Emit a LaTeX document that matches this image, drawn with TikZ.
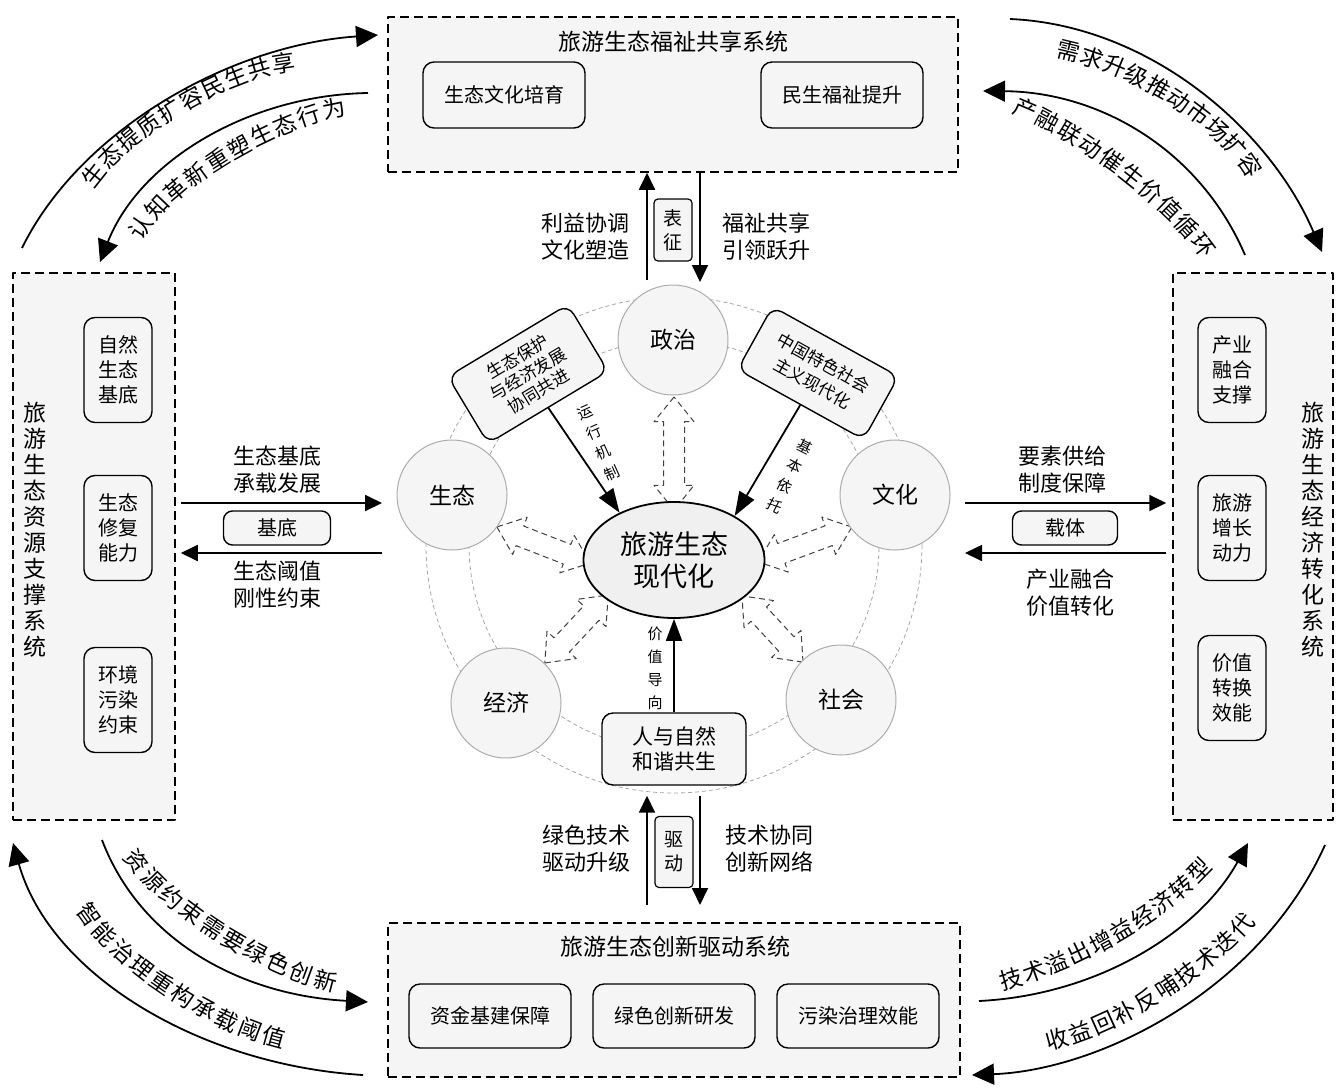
\documentclass[tikz,border=0pt]{standalone}
\usepackage{fontspec}
\setmainfont{Noto Sans CJK SC}
\usetikzlibrary{arrows.meta,shapes.geometric,shapes.arrows,decorations.text}
\newcommand{\fsz}[2]{\fontsize{#1}{#2}\selectfont}

\begin{document}
\begin{tikzpicture}[x=1pt, y=-1pt, line join=round,
  sysbox/.style={draw, line width=1.5pt, dash pattern=on 9pt off 5pt, fill=gray!8, inner sep=0pt},
  subbox/.style={draw, line width=1.4pt, rounded corners=11pt, fill=gray!8, align=center, inner sep=0pt},
  systitle/.style={font=\fsz{23}{26}, align=center},
  lbl/.style={font=\fsz{22}{27}, align=center},
  ringline/.style={draw=gray!70, dash pattern=on 4pt off 3pt, line width=0.8pt},
  dimnode/.style={circle, draw=gray!65, line width=1pt, fill=gray!8, minimum size=110pt, inner sep=0pt, font=\fsz{23}{27}},
  hollow/.style={double arrow, draw=black!75, fill=white, dash pattern=on 6pt off 4pt, line width=1pt,
    inner xsep=0pt, inner ysep=10pt, minimum width=39pt, double arrow head extend=9.5pt, double arrow tip angle=78},
  conn/.style={line width=1.8pt, -{Triangle[length=17pt, width=16pt]}},
  cycarrow/.style={line width=1.8pt, -{Triangle[length=22pt, width=21pt]}},
  curvetext/.style={decorate, decoration={text along path, text align=fit to path, raise=-9pt}},
]
\useasboundingbox (0,0) rectangle (1344,1092);

% 1. 四个子系统虚线框
\node[sysbox, minimum width=570pt, minimum height=155pt] (welfare) at (673,94.5) {};
\node[systitle] (welfareT) at (673,42) {旅游生态福祉共享系统};
\node[subbox, font=\fsz{20}{24}, minimum width=162pt, minimum height=66pt] (cultivate) at (504,95) {生态文化培育};
\node[subbox, font=\fsz{20}{24}, minimum width=162pt, minimum height=66pt] (livelihood) at (842,95) {民生福祉提升};

\node[sysbox, minimum width=162pt, minimum height=547pt] (resource) at (94,546.5) {};
\node[systitle] (resourceT) at (35,530) {旅\\游\\生\\态\\资\\源\\支\\撑\\系\\统};
\node[subbox, font=\fsz{20}{25}, minimum width=68pt, minimum height=105pt] (natBase) at (118,370) {自然\\生态\\基底};
\node[subbox, font=\fsz{20}{25}, minimum width=68pt, minimum height=105pt] (repair) at (118,528) {生态\\修复\\能力};
\node[subbox, font=\fsz{20}{25}, minimum width=68pt, minimum height=105pt] (pollute) at (118,700) {环境\\污染\\约束};

\node[sysbox, minimum width=160pt, minimum height=547pt] (economic) at (1253,546.5) {};
\node[systitle] (economicT) at (1313,530) {旅\\游\\生\\态\\经\\济\\转\\化\\系\\统};
\node[subbox, font=\fsz{20}{25}, minimum width=68pt, minimum height=105pt] (fusion) at (1232,370) {产业\\融合\\支撑};
\node[subbox, font=\fsz{20}{25}, minimum width=68pt, minimum height=105pt] (growth) at (1232,528) {旅游\\增长\\动力};
\node[subbox, font=\fsz{20}{25}, minimum width=68pt, minimum height=105pt] (convert) at (1232,688) {价值\\转换\\效能};

\node[sysbox, minimum width=572pt, minimum height=154pt] (innovate) at (674,1000) {};
\node[systitle] (innovateT) at (675,947) {旅游生态创新驱动系统};
\node[subbox, font=\fsz{20}{24}, minimum width=162pt, minimum height=64pt] (capital) at (490,1016) {资金基建保障};
\node[subbox, font=\fsz{20}{24}, minimum width=162pt, minimum height=64pt] (greenRD) at (674,1016) {绿色创新研发};
\node[subbox, font=\fsz{20}{24}, minimum width=162pt, minimum height=64pt] (govern) at (858,1016) {污染治理效能};

% 2. 中心虚线圆环 (最底层)
\coordinate (hub) at (674,545);
\draw[ringline] (hub) circle (205pt);
\draw[ringline] (hub) circle (248pt);

% 3. 空心虚线双向箭头 (被中心椭圆部分遮挡)
\node[hollow, minimum height=113pt, rotate=90] (hPol) at (674,453.5) {};
\node[hollow, minimum height=100pt, rotate=158.8] (hEco) at (543.5,545) {};
\node[hollow, minimum height=100pt, rotate=20.4] (hCul) at (805,544.5) {};
\node[hollow, minimum height=93pt, rotate=227] (hEcn) at (576.5,629) {};
\node[hollow, minimum height=90pt, rotate=312.7] (hSoc) at (772.5,629) {};

% 4. 五个维度圆与核心椭圆
\node[dimnode] (politics) at (673,340) {政治};
\node[dimnode] (ecology) at (452,495) {生态};
\node[dimnode] (cultureD) at (895,495) {文化};
\node[dimnode] (economy) at (506,703) {经济};
\node[dimnode] (society) at (841,700) {社会};

\node[ellipse, draw, line width=1.8pt, fill=gray!12, minimum width=181pt, minimum height=116pt,
  inner sep=0pt, font=\fsz{27}{32}, align=center] (core) at (674,560) {旅游生态\\现代化};

% 5. 倾斜说明框与实线箭头
\node[subbox, font=\fsz{17}{20}, minimum width=140pt, minimum height=78pt, rotate=31] (coEvolve) at (528,374) {生态保护\\与经济发展\\协同共进};
\node[subbox, font=\fsz{17}{23}, minimum width=144pt, minimum height=72pt, rotate=-29] (chinaMod) at (818,373) {中国特色社会\\主义现代化};
\node[subbox, font=\fsz{21}{25}, minimum width=144pt, minimum height=72pt] (harmony) at (674,749) {人与自然\\和谐共生};

\draw[conn, -{Triangle[length=24pt, width=17pt]}] (coEvolve.south) -- (core.139);
\draw[conn, -{Triangle[length=24pt, width=17pt]}] (chinaMod.south) -- (core.36);
\draw[conn, -{Triangle[length=22pt, width=16pt]}] (harmony.north) -- (core.south);

\node[font=\fsz{15}{22}, align=center, rotate=24] (mechT) at (599,443) {运\\行\\机\\制};
\node[font=\fsz{15}{22}, align=center, rotate=-27] (basisT) at (790,476) {基\\本\\依\\托};
\node[font=\fsz{15}{23}, align=center] (valueT) at (655,668) {价\\值\\导\\向};

% 6. 上下纵向连接
\coordinate (upA) at (647,280);
\coordinate (dnA) at (700,282);
\draw[conn] (upA) -- (upA |- welfare.south);
\draw[conn] (dnA |- welfare.south) -- (dnA);
\node[subbox, rounded corners=4pt, line width=1.2pt, font=\fsz{19}{24}, minimum width=38pt, minimum height=62pt] (sign) at (673,230) {表\\征};
\node[lbl] (welfareL) at (585,237) {利益协调\\文化塑造};
\node[lbl] (welfareR) at (766,237) {福祉共享\\引领跃升};

\coordinate (upB) at (647,905);
\coordinate (dnB) at (700,905);
\draw[conn, shorten >=10pt] (upB) -- (upB |- harmony.south);
\draw[conn, shorten <=10pt] (dnB |- harmony.south) -- (dnB);
\node[subbox, rounded corners=4pt, line width=1.2pt, font=\fsz{19}{24}, minimum width=38pt, minimum height=71pt] (drive) at (674,852) {驱\\动};
\node[lbl] (innovateL) at (586,849) {绿色技术\\驱动升级};
\node[lbl] (innovateR) at (769,849) {技术协同\\创新网络};

% 7. 左右横向连接
\coordinate (lkTop) at (382,503);
\coordinate (lkBot) at (382,553);
\draw[conn, shorten <=5pt] (resource.east |- lkTop) -- (lkTop);
\draw[conn, shorten >=5pt] (lkBot) -- (resource.east |- lkBot);
\node[subbox, rounded corners=9pt, font=\fsz{20}{24}, minimum width=107pt, minimum height=34pt] (base) at (277,528) {基底};
\node[lbl] (resourceL) at (277,470) {生态基底\\承载发展};
\node[lbl] (resourceR) at (277,585) {生态阈值\\刚性约束};

\coordinate (rkTop) at (965,503);
\coordinate (rkBot) at (965,553);
\draw[conn, shorten >=6pt] (rkTop) -- (economic.west |- rkTop);
\draw[conn, shorten <=6pt] (economic.west |- rkBot) -- (rkBot);
\node[subbox, rounded corners=9pt, font=\fsz{20}{24}, minimum width=105pt, minimum height=34pt] (carrier) at (1065,528) {载体};
\node[lbl] (economicL) at (1062,470) {要素供给\\制度保障};
\node[lbl] (economicR) at (1070,593) {产业融合\\价值转化};

% 8. 四角弧形循环箭头与沿弧文字 (文字中线单独给出)
\coordinate (tlA) at (22,248);   \coordinate (tlB) at (378,35);
\coordinate (tlC) at (368,93);   \coordinate (tlD) at (100,262);
\draw[cycarrow] (tlA) .. controls (80,130) and (230,45) .. (tlB);
\draw[cycarrow] (tlC) .. controls (250,95) and (140,160) .. (tlD);
\path[curvetext, decoration={text={|\fsz{23}{23}|生态提质扩容民生共享}}] (87,184) .. controls (125,128) and (230,66) .. (295,62);
\path[curvetext, decoration={text={|\fsz{23}{23}|认知革新重塑生态行为}}] (135,237) .. controls (165,178) and (285,114) .. (345,107);

\coordinate (trA) at (1010,19);  \coordinate (trB) at (1322,252);
\coordinate (trC) at (1245,255); \coordinate (trD) at (983,91);
\draw[cycarrow] (trA) .. controls (1150,25) and (1270,130) .. (trB);
\draw[cycarrow] (trC) .. controls (1200,150) and (1100,92) .. (trD);
\path[curvetext, decoration={text={|\fsz{23}{23}|需求升级推动市场扩容}}] (1058,48) .. controls (1115,58) and (1220,110) .. (1256,175);
\path[curvetext, decoration={text={|\fsz{23}{23}|产融联动催生价值循环}}] (1015,105) .. controls (1070,125) and (1170,195) .. (1210,255);

\coordinate (blA) at (363,1075); \coordinate (blB) at (13,843);
\coordinate (blC) at (102,840);  \coordinate (blD) at (368,1002);
\draw[cycarrow] (blA) .. controls (200,1065) and (50,975) .. (blB);
\draw[cycarrow] (blC) .. controls (140,940) and (240,995) .. (blD);
\path[curvetext, decoration={text={|\fsz{23}{23}|资源约束需要绿色创新}}] (130,852) .. controls (165,905) and (270,970) .. (337,983);
\path[curvetext, decoration={text={|\fsz{23}{23}|智能治理重构承载阈值}}] (83,905) .. controls (115,960) and (215,1025) .. (285,1040);

\coordinate (brA) at (979,1001); \coordinate (brB) at (1248,843);
\coordinate (brC) at (1325,845); \coordinate (brD) at (972,1075);
\draw[cycarrow] (brA) .. controls (1100,995) and (1200,930) .. (brB);
\draw[cycarrow] (brC) .. controls (1260,990) and (1100,1070) .. (brD);
\path[curvetext, decoration={text={|\fsz{23}{23}|技术溢出增益经济转型}}] (1000,982) .. controls (1070,965) and (1160,915) .. (1207,862);
\path[curvetext, decoration={text={|\fsz{23}{23}|收益回补反哺技术迭代}}] (1046,1042) .. controls (1120,1025) and (1205,968) .. (1250,917);
\end{tikzpicture}
\end{document}
